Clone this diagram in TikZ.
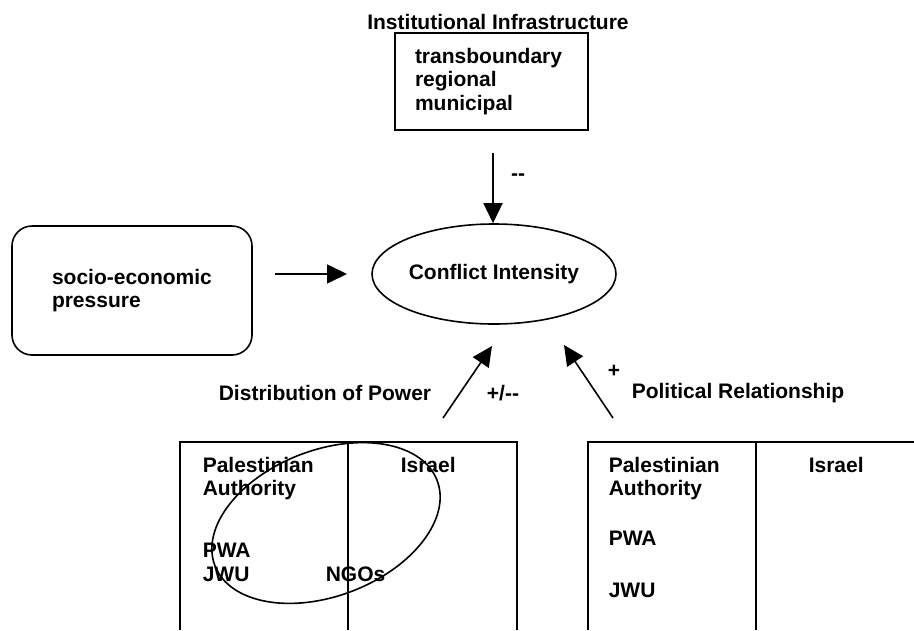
\documentclass[tikz,border=0pt]{standalone}
\usepackage{fontspec}
\setmainfont{Liberation Sans}
\usetikzlibrary{shapes.geometric,arrows.meta}
\newcommand{\dminus}{{-}{-}}

\begin{document}
\begin{tikzpicture}[x=1pt,y=-1pt,line width=1.6pt,font=\fontsize{21}{23.5}\selectfont\bfseries]
                        \tikzstyle{arr}=[-{Triangle[length=20pt,width=19pt]}]
                        \tikzstyle{lbl}=[inner sep=0pt]
                        \tikzstyle{cell}=[inner sep=0pt,anchor=base west]
                        \useasboundingbox (0,0) rectangle (914,630);
                        \node[lbl] (instTitle) at (498,22) {Institutional Infrastructure};
                        \node[draw,minimum width=193pt,minimum height=97pt,text width=153pt,align=left,inner sep=0pt] (infra) at (491.5,81.5)
                            {transboundary\\regional\\municipal};
                        \node[draw,ellipse,minimum width=244pt,minimum height=100pt,inner sep=0pt] (conf) at (494,274)
                            {Conflict Intensity};
                        \node[draw,rounded corners=20pt,minimum width=240pt,minimum height=129pt,text width=160pt,align=left,inner sep=0pt] (socio) at (132,290.5)
                            {socio-economic\\pressure};
                        \coordinate (infraTail) at (493,153);
                        \coordinate (pressTail) at (275,274);
                        \coordinate (pressHead) at (347,274);
                        \coordinate (powerTail) at (443,418);
                        \coordinate (powerHead) at (492,346);
                        \coordinate (relTail) at (613,418);
                        \coordinate (relHead) at (564,345);
                        \draw[arr] (infraTail) -- (infraTail |- conf.north);
                        \draw[arr] (pressTail) -- (pressHead);
                        \draw[arr] (powerTail) -- (powerHead);
                        \draw[arr] (relTail) -- (relHead);
                        \node[lbl] (minusLbl) at (518,177) {\dminus};
                        \node[lbl] (pmLbl) at (503,393) {+/\dminus};
                        \node[lbl] (plusLbl) at (614,371) {+};
                        \node[lbl] (powerLbl) at (325,393) {Distribution of Power};
                        \node[lbl] (relLbl) at (738,393) {Political Relationship};
                        \draw (180,630) -- (180,442) -- (517,442) -- (517,630);
                        \draw (348,442) -- (348,630);
                        \node[cell] (palL) at (202,472) {Palestinian};
                        \node[cell] (authL) at (202,495) {Authority};
                        \node[cell] (isrL) at (400,472) {Israel};
                        \node[cell] (pwaL) at (202,557) {PWA};
                        \node[cell] (jwuL) at (202,581) {JWU};
                        \node[cell] (ngoL) at (325,581) {NGOs};
                        \node[draw,ellipse,minimum width=238pt,minimum height=146pt,inner sep=0pt,rotate=21] (actorSet) at (326,523) {};
                        \draw (588,630) -- (588,442) -- (914,442);
                        \draw (756,442) -- (756,630);
                        \node[cell] (palR) at (608,472) {Palestinian};
                        \node[cell] (authR) at (608,495) {Authority};
                        \node[cell] (isrR) at (808,472) {Israel};
                        \node[cell] (pwaR) at (608,545) {PWA};
                        \node[cell] (jwuR) at (608,597) {JWU};
                    \end{tikzpicture}
\end{document}
